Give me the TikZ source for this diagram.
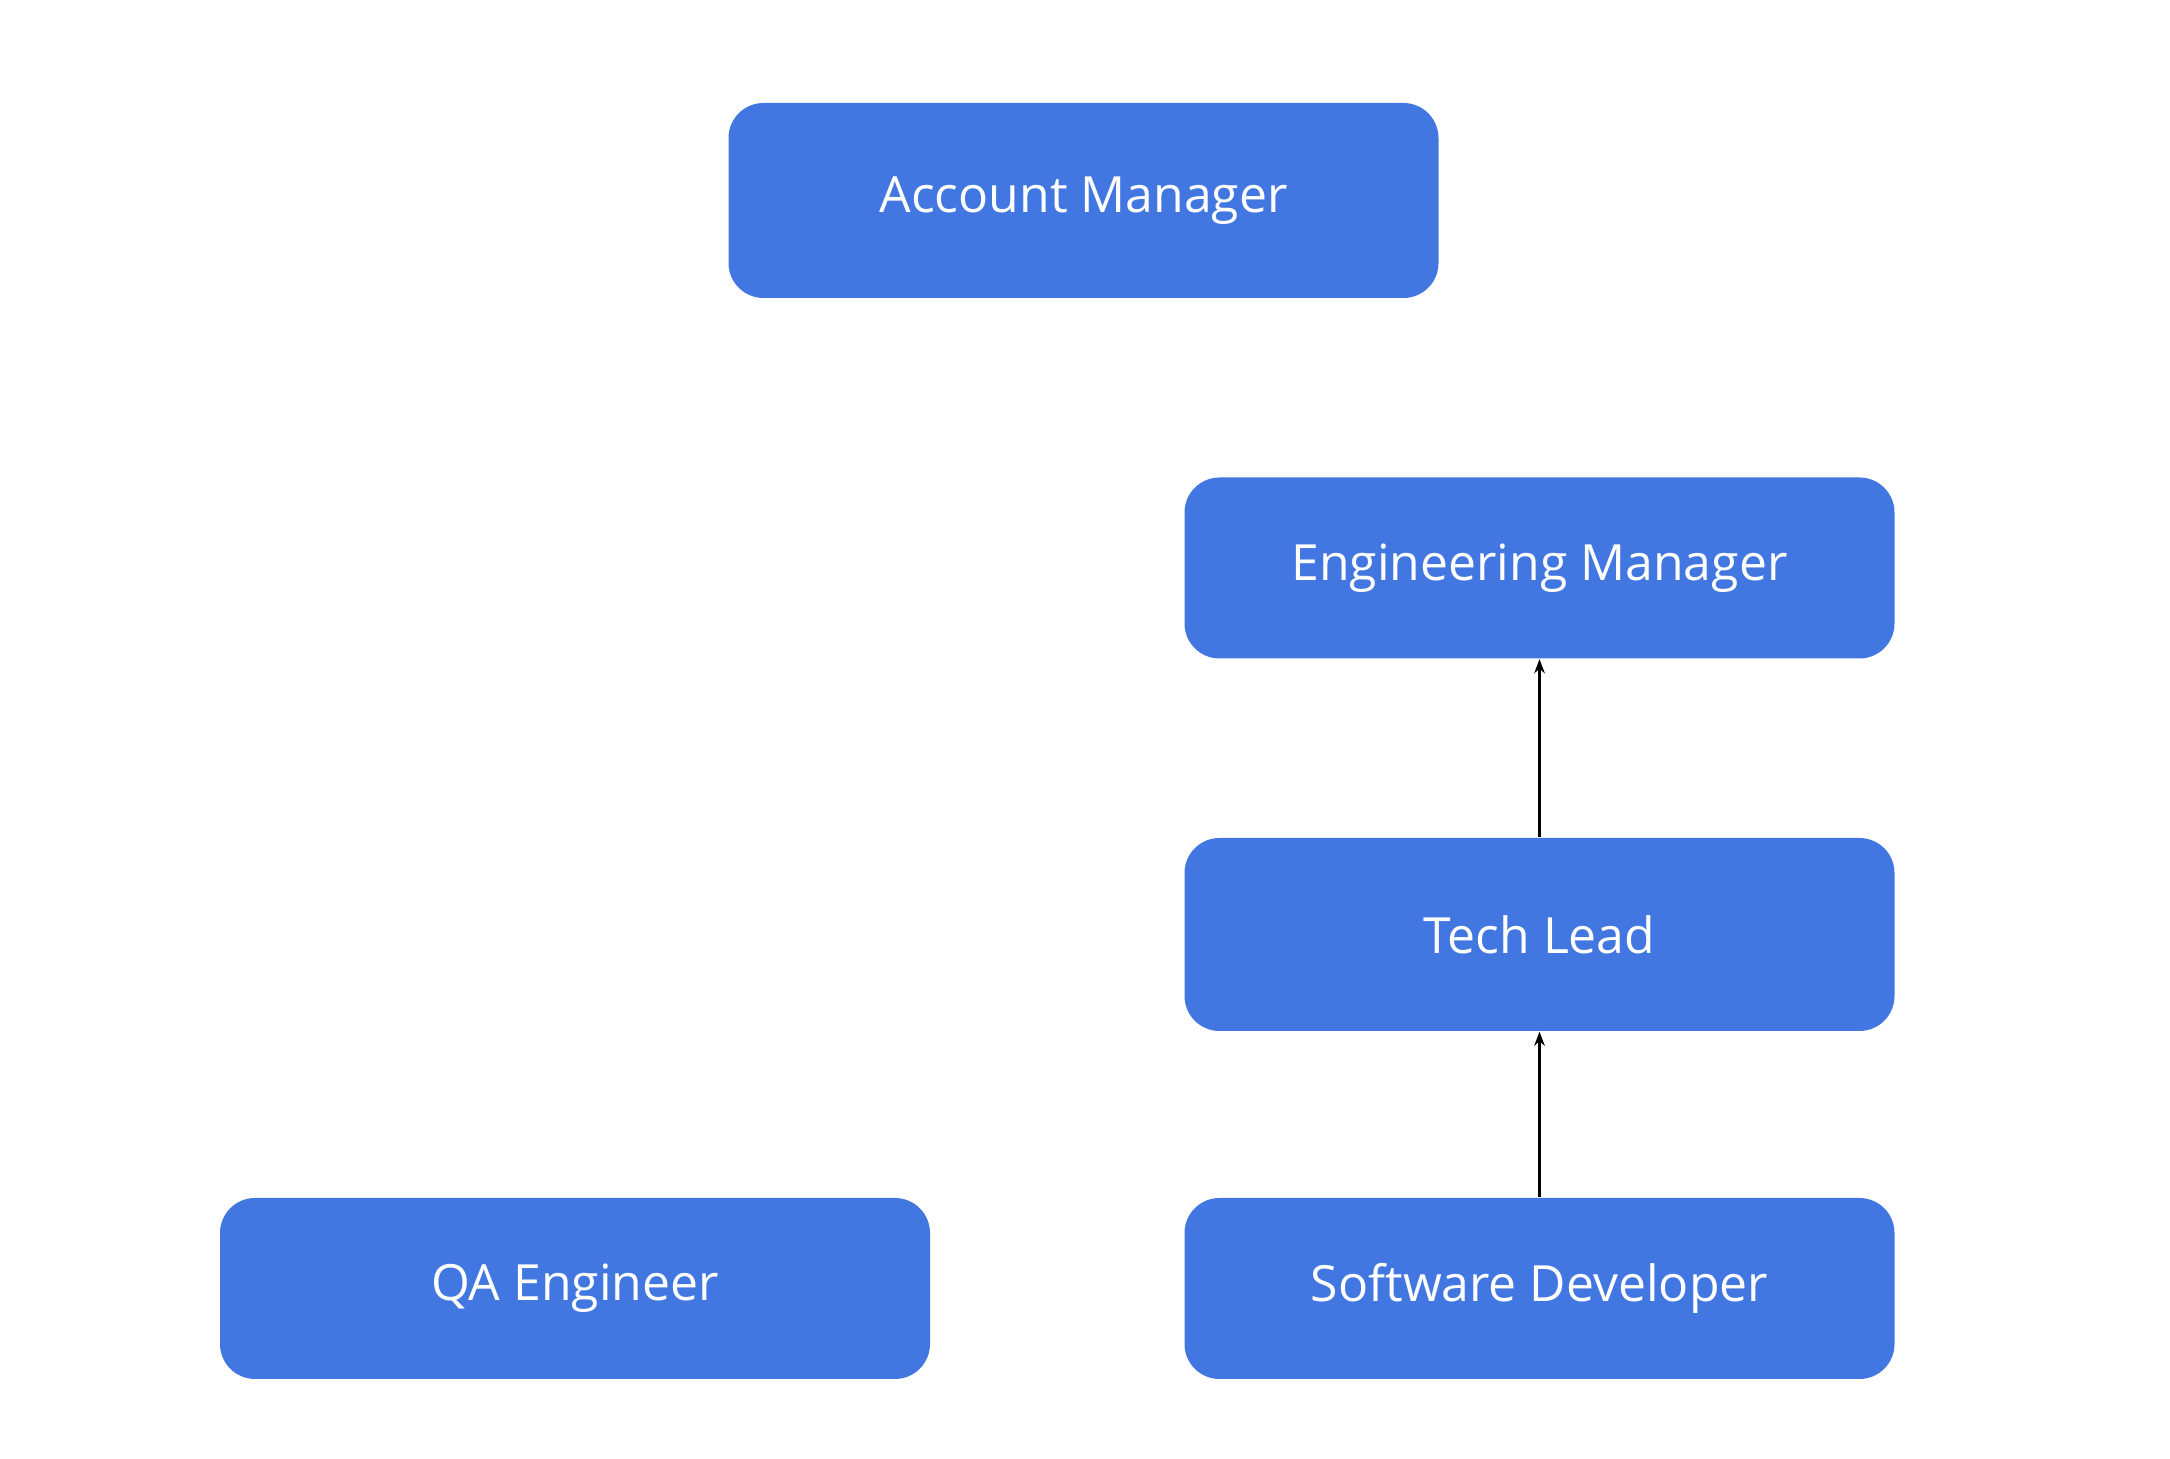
\documentclass[tikz,border=0pt]{standalone}
\usepackage{fontspec}
\setmainfont{Open Sans}
\usetikzlibrary{arrows.meta}
\definecolor{roleblue}{RGB}{66,119,225}
\tikzstyle{role} = [fill=roleblue, text=white, rounded corners=3.5mm, minimum width=71mm, minimum height=18.1mm, inner sep=0mm, font=\fontsize{14.2}{17}\selectfont]
\tikzstyle{link} = [-{Stealth[length=4pt, width=3pt]}, line width=.7pt, black]

\begin{document}
\begin{tikzpicture}
                \useasboundingbox (0, 0) rectangle (21.7, -14.59);
                \node[role, minimum height=19.5mm] (am) at (10.835, -2.005) {Account Manager};
                \node[role] (em) at (15.395, -5.68) {Engineering Manager};
                \node[role, minimum height=19.3mm] (tl) at (15.395, -9.345) {Tech Lead};
                \node[role] (qa) at (5.75, -12.885) {QA Engineer};
                \node[role] (sd) at (15.395, -12.885) {Software Developer};
                \foreach \f/\t in {sd/tl, tl/em}
                \draw[link] (\f) -- (\t);
            \end{tikzpicture}
\end{document}
